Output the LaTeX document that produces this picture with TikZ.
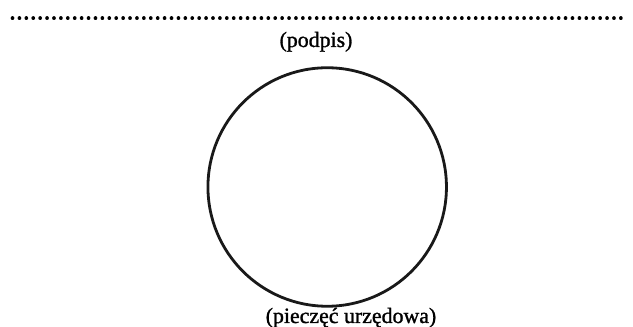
\documentclass[tikz,border=0pt]{standalone}
\usepackage{fontspec}
\setmainfont{Liberation Serif}
\newlength\pxu \setlength\pxu{0.75pt}
\tikzset{lab/.style={font=\fontsize{16.4}{18}\selectfont\addfontfeature{FakeBold=1.2}, inner sep=0pt, anchor=base},
 dots/.style={line width=3.7\pxu, line cap=round, dash pattern=on 0.01pt off 6.9\pxu, black},
 seal/.style={draw=black!90, line width=2.8\pxu, circle, inner sep=0pt, minimum size=238.5\pxu}}
\begin{document}
\begin{tikzpicture}[x=0.75pt,y=-0.75pt]
\useasboundingbox (0,0) rectangle (633,327);
\coordinate (a) at (12.5,18.3);
\coordinate (b) at (621,18.3);
\draw[dots] (a) -- (b);
\node[lab] (podpis) at (316,47) {(podpis)};
\node[seal] (c) at (327.2,187) {};
\node[lab] (piecz) at (351,323) {(pieczęć urzędowa)};
\end{tikzpicture}
\end{document}
